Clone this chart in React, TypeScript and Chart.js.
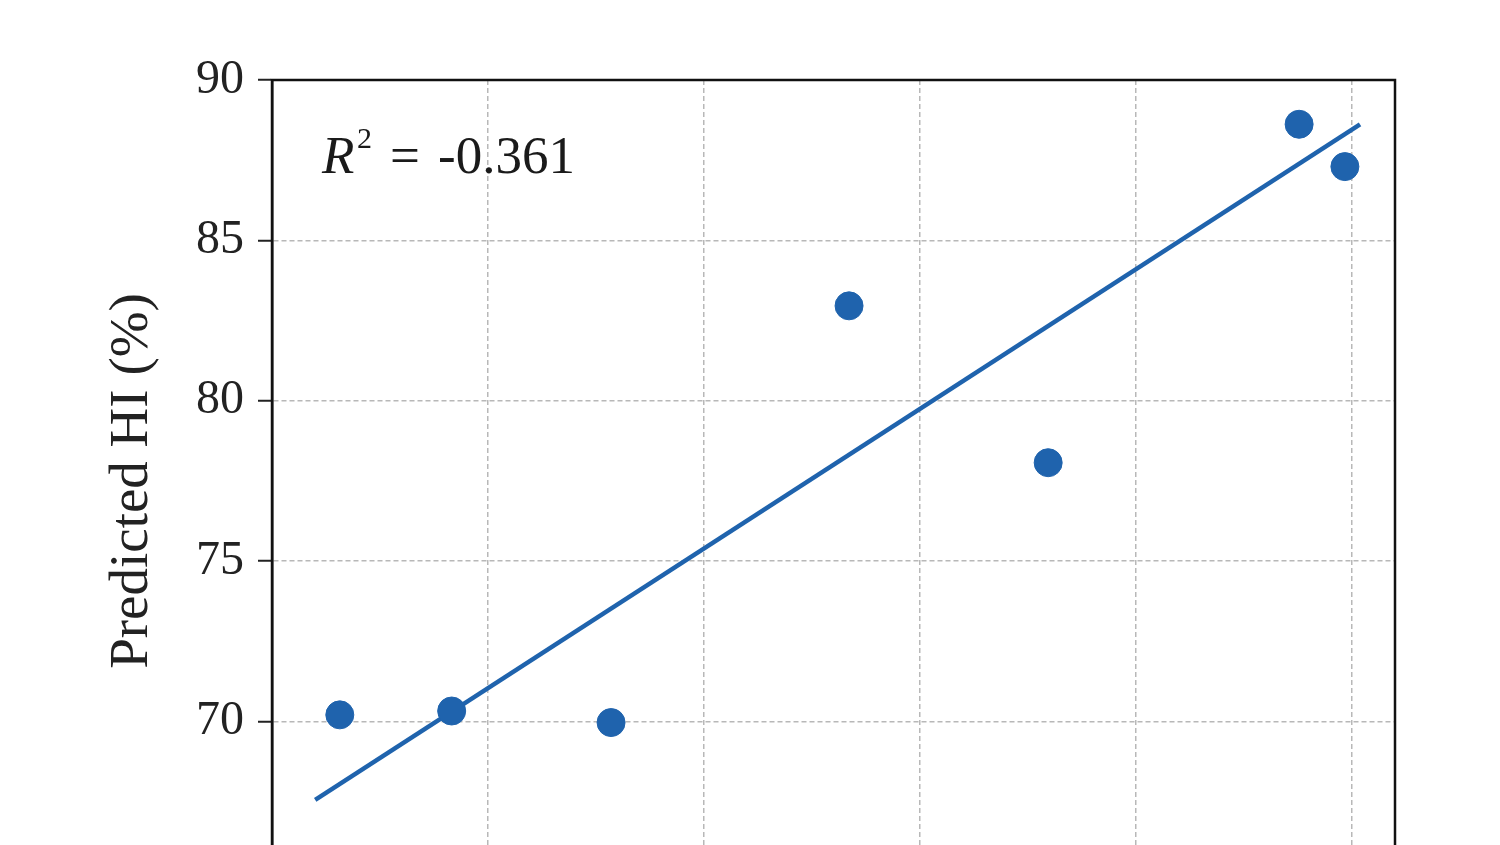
import { useEffect, useRef } from "react";
import { Chart, registerables } from "chart.js";

Chart.register(...registerables);

// values
const measuredHI = [66.57, 69.16, 72.85, 78.36, 82.97, 88.78, 89.84];
const predictedHI = [70.21, 70.33, 69.97, 82.96, 78.07, 88.62, 87.3];
const fitX = [66.0, 90.19];
const fitY = [67.56, 88.62];
const xTicks = [65, 70, 75, 80, 85, 90];
const yTicks = [65, 70, 75, 80, 85, 90];
const r2Value = "-0.361";

const BLUE = "#1f63ad";
const SERIF = "'Times New Roman', 'Liberation Serif', Times, serif";

const framePlugin = {
  id: "frameAndR2",
  afterDraw(chart: any) {
    const { ctx, chartArea } = chart;
    const { left, top, right, bottom } = chartArea;
    ctx.save();
    ctx.strokeStyle = "#111";
    ctx.lineWidth = 2.5;
    ctx.strokeRect(left, top, right - left, bottom - top);

    // R^2 annotation
    ctx.fillStyle = "#1a1a1a";
    ctx.textBaseline = "alphabetic";
    ctx.textAlign = "left";
    const x0 = left + 50;
    const base = top + 93;
    ctx.font = `italic 53px ${SERIF}`;
    ctx.fillText("R", x0, base);
    ctx.font = `30px ${SERIF}`;
    ctx.fillText("2", x0 + 35, base - 25);
    ctx.font = `53px ${SERIF}`;
    ctx.fillText("=", x0 + 68, base);
    ctx.fillText(r2Value, x0 + 116, base);
    ctx.restore();
  },
};

const App = () => {
  const chartRef: any = useRef(null);

  useEffect(() => {
    const ctx = chartRef.current.getContext("2d");

    const theChart = new Chart(ctx, {
      type: "scatter",
      data: {
        datasets: [
          {
            label: "Samples",
            data: measuredHI.map((x, i) => ({ x, y: predictedHI[i] })),
            backgroundColor: BLUE,
            borderColor: BLUE,
            pointRadius: 14,
            pointHoverRadius: 14,
            order: 0,
          },
          {
            label: "Fit",
            type: "line",
            data: fitX.map((x, i) => ({ x, y: fitY[i] })),
            borderColor: BLUE,
            borderWidth: 4.5,
            pointRadius: 0,
            showLine: true,
            fill: false,
            tension: 0,
            order: 1,
          },
        ],
      },
      options: {
        responsive: true,
        maintainAspectRatio: false,
        animation: false,
        layout: {
          padding: { top: 80, right: 105, left: 0, bottom: 0 },
        },
        plugins: {
          legend: { display: false },
          tooltip: { enabled: false },
        },
        scales: {
          x: {
            type: "linear",
            min: 65,
            max: 91,
            afterBuildTicks: (scale: any) => {
              scale.ticks = xTicks.map((value) => ({ value }));
            },
            afterFit: (scale: any) => {
              scale.height = 118;
            },
            ticks: {
              color: "#222",
              font: { family: SERIF, size: 48 },
              padding: 12,
            },
            grid: {
              color: "#b8b8b8",
              lineWidth: 1.5,
              tickColor: "#222",
              tickWidth: 2,
              tickLength: 14,
            },
            border: { color: "#111", width: 2.5, dash: [5, 3] },
            title: {
              display: true,
              text: "Measured HI (%)",
              color: "#222",
              font: { family: SERIF, size: 55 },
            },
          },
          y: {
            type: "linear",
            min: 65,
            max: 90,
            afterBuildTicks: (scale: any) => {
              scale.ticks = yTicks.map((value) => ({ value }));
            },
            afterFit: (scale: any) => {
              scale.width = 272;
            },
            ticks: {
              color: "#222",
              font: { family: SERIF, size: 48 },
              padding: 14,
            },
            grid: {
              color: "#b8b8b8",
              lineWidth: 1.5,
              tickColor: "#222",
              tickWidth: 2,
              tickLength: 14,
            },
            border: { color: "#111", width: 2.5, dash: [5, 3] },
            title: {
              display: true,
              text: "Predicted HI (%)",
              color: "#222",
              font: { family: SERIF, size: 55 },
              padding: { top: 100, bottom: 0 },
            },
          },
        },
      },
      plugins: [framePlugin],
    });

    return () => {
      theChart.destroy();
    };
  }, []);

  return (
    <div
      style={{
        position: "fixed",
        inset: 0,
        overflow: "hidden",
        background: "#fff",
      }}
    >
      <div style={{ position: "relative", width: 1500, height: 1000 }}>
        <canvas ref={chartRef} />
      </div>
    </div>
  );
};

export default App;
